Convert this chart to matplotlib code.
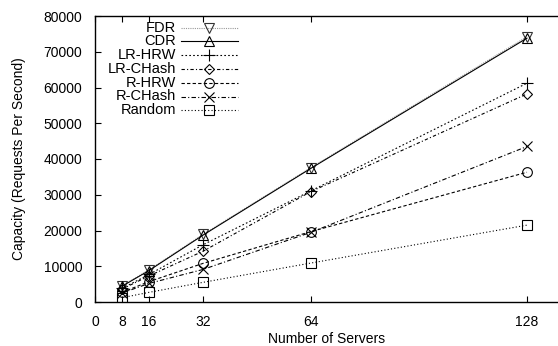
import matplotlib
matplotlib.use("Agg")
import matplotlib.pyplot as plt
from matplotlib.lines import Line2D

plt.rcParams['font.family'] = ['Liberation Sans', 'DejaVu Sans']

servers = [8, 16, 32, 64, 128]
fdr = [4500, 9000, 18900, 37600, 74200]
cdr = [4400, 8800, 18700, 37400, 73800]
lr_hrw = [3800, 7700, 16000, 31100, 61200]
lr_chash = [3600, 7300, 14200, 30900, 58200]
r_hrw = [2700, 5700, 10800, 19700, 36300]
r_chash = [2500, 5200, 9100, 19500, 43500]
random_ = [1200, 2700, 5500, 10900, 21500]
labels = ['FDR', 'CDR', 'LR-HRW', 'LR-CHash', 'R-HRW', 'R-CHash', 'Random']

xticks = [0, 8, 16, 32, 64, 128]
yticks = [0, 10000, 20000, 30000, 40000, 50000, 60000, 70000, 80000]

W, H = 558, 346
fig = plt.figure(figsize=(W/100, H/100), dpi=100)
ax = fig.add_axes([95/W, 1-302/H, 1-95/W, (302-16)/H])

lw = 0.8
ms = 7
styles = [
    dict(color='#999999', ls=(0, (1, 1)), marker='v', ms=ms, mfc='none', mec='#333333'),
    dict(color='black', ls='-', marker='^', ms=ms, mfc='none', mec='black'),
    dict(color='black', ls=(0, (1.5, 2)), marker='+', ms=ms+1, mec='black'),
    dict(color='black', ls=(0, (3, 2, 1, 2)), marker='D', ms=ms-2, mfc='none', mec='black'),
    dict(color='black', ls=(0, (3, 2)), marker='o', ms=ms, mfc='none', mec='black'),
    dict(color='black', ls=(0, (4, 2, 1, 2)), marker='x', ms=ms, mec='black'),
    dict(color='black', ls=(0, (1, 2)), marker='s', ms=ms, mfc='none', mec='black'),
]
series = [fdr, cdr, lr_hrw, lr_chash, r_hrw, r_chash, random_]
for ys, st, lab in zip(series, styles, labels):
    ax.plot(servers, ys, lw=lw, mew=0.8, label=lab, **st)

ax.set_xlim(0, 137.2)
ax.set_ylim(0, 80000)
ax.set_xticks(xticks)
ax.set_yticks(yticks)
ax.tick_params(direction='in', length=4, width=0.8, labelsize=10, top=True, right=False)
ax.tick_params(axis='x', pad=9.5)
ax.tick_params(axis='y', pad=9)
ax.spines['right'].set_visible(False)
for s in ['left', 'top', 'bottom']:
    ax.spines[s].set_linewidth(1.0)

ax.set_xlabel('Number of Servers', fontsize=10, labelpad=2)
ax.set_ylabel('Capacity (Requests Per Second)', fontsize=10, labelpad=13)

# legend (gnuplot style: right-aligned text, sample after)
for i, (st, lab) in enumerate(zip(styles, labels)):
    ypix = 27.5 + 13.8 * i
    yf = 1 - ypix / H
    fig.text(176/W, yf, lab, ha='right', va='center', fontsize=10.5)
    fig.add_artist(Line2D([181/W, 238/W], [yf, yf], transform=fig.transFigure,
                          color=st['color'], ls=st['ls'], lw=lw))
    fig.add_artist(Line2D([209/W], [yf], transform=fig.transFigure, ls='none',
                          marker=st['marker'], ms=st['ms'], mfc=st.get('mfc', 'none'),
                          mec=st['mec'], mew=0.8))

fig.savefig('out.png', dpi=100)
